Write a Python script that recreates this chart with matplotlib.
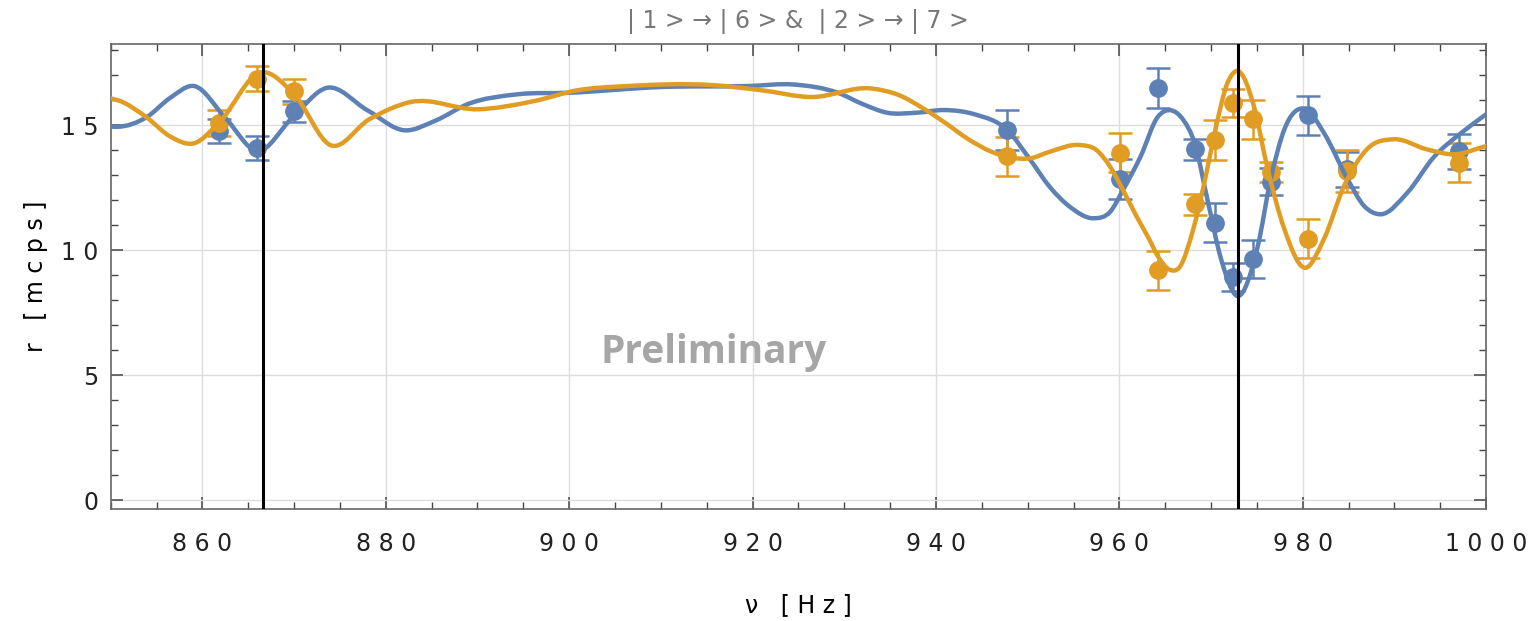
import numpy as np
import matplotlib
matplotlib.use("Agg")
import matplotlib.pyplot as plt
from matplotlib.path import Path
from matplotlib.patches import PathPatch
from matplotlib.ticker import MultipleLocator, FuncFormatter

# measured points (frequency in Hz, rate in mcps, error)
blue_x = [861.8, 866.0, 870.0, 947.8, 960.1, 964.2, 968.3, 970.4, 972.4, 974.55, 976.5, 980.6, 984.8, 997.0]
blue_y = [14.77, 14.1, 15.57, 14.8, 12.84, 16.48, 14.04, 11.1, 8.93, 9.64, 12.75, 15.4, 13.24, 13.97]
blue_err = [0.48, 0.47, 0.42, 0.8, 0.8, 0.8, 0.42, 0.78, 0.55, 0.76, 0.55, 0.78, 0.7, 0.7]

orange_x = [861.8, 866.0, 870.0, 947.8, 960.1, 964.2, 968.3, 970.4, 972.4, 974.55, 976.5, 980.6, 984.8, 997.0]
orange_y = [15.1, 16.87, 16.37, 13.76, 13.9, 9.2, 11.84, 14.4, 15.9, 15.24, 13.15, 10.47, 13.17, 13.5]
orange_err = [0.52, 0.5, 0.5, 0.78, 0.78, 0.78, 0.42, 0.8, 0.55, 0.77, 0.4, 0.78, 0.83, 0.78]

# fitted curves at peaks, troughs and crossings
blue_fit_x = [850.0, 850.8, 853.9, 856.5, 859.1, 862.5, 866.0, 869.8, 873.6, 878.0, 882.0, 885.5,
              888.9, 894.4, 900.0, 910.0, 919.5, 924.5, 929.3, 932.0, 934.7, 937.8, 940.9, 944.2,
              947.8, 950.3, 952.4, 954.6, 957.2, 959.0, 960.4, 962.3, 964.2, 965.6, 967.0, 968.2,
              969.6, 971.1, 972.9, 975.1, 976.5, 978.0, 980.2, 982.3, 984.9, 986.7, 988.5, 991.4,
              994.3, 997.3, 1000.0]
blue_fit_y = [14.95, 14.94, 15.32, 16.1, 16.57, 15.3, 13.97, 15.3, 16.5, 15.6, 14.8, 15.2,
              15.84, 16.24, 16.3, 16.53, 16.57, 16.63, 16.3, 15.85, 15.5, 15.5, 15.61, 15.44,
              14.8, 13.61, 12.54, 11.74, 11.28, 11.54, 12.41, 13.74, 15.34, 15.6, 15.2, 14.3,
              12.04, 9.64, 8.17, 10.17, 12.84, 14.84, 15.67, 14.7, 12.84, 11.77, 11.44, 12.3,
              13.73, 14.7, 15.44]

orange_fit_x = [850.0, 850.8, 853.9, 856.5, 859.1, 861.8, 866.4, 870.0, 874.0, 878.2, 882.7, 890.0,
                896.2, 900.9, 906.4, 915.5, 921.0, 926.4, 933.0, 936.0, 938.5, 941.0, 943.5, 946.0,
                948.3, 950.3, 952.4, 955.7, 957.5, 959.0, 960.4, 961.9, 963.2, 964.3, 965.4, 966.6,
                968.1, 969.5, 970.4, 971.8, 972.9, 974.7, 976.1, 978.0, 980.2, 982.3, 984.5, 987.0,
                990.0, 993.5, 996.5, 1000.0]
orange_fit_y = [16.07, 16.0, 15.32, 14.55, 14.28, 15.1, 17.12, 16.24, 14.2, 15.24, 15.93, 15.64,
                15.97, 16.4, 16.57, 16.61, 16.4, 16.13, 16.47, 16.2, 15.7, 15.1, 14.45, 13.95,
                13.7, 13.68, 13.94, 14.21, 14.01, 13.34, 12.41, 11.34, 10.48, 9.7, 9.24, 9.34,
                10.9, 13.1, 14.7, 16.7, 17.17, 15.73, 13.37, 10.84, 9.3, 10.44, 12.57, 14.04,
                14.44, 14.04, 13.84, 14.17]

transitions = [866.6, 972.9]

BLUE = "#5E81B5"
ORANGE = "#E19C24"
FONT = ["Liberation Sans Narrow", "DejaVu Sans"]


def smooth_curve(xs, ys):
    # cubic bezier pieces through the read-off points
    xs = np.asarray(xs, float)
    ys = np.asarray(ys, float)
    m = np.gradient(ys, xs)
    verts = [(xs[0], ys[0])]
    codes = [Path.MOVETO]
    for i in range(len(xs) - 1):
        h = xs[i + 1] - xs[i]
        verts += [(xs[i] + h / 3, ys[i] + m[i] * h / 3),
                  (xs[i + 1] - h / 3, ys[i + 1] - m[i + 1] * h / 3),
                  (xs[i + 1], ys[i + 1])]
        codes += [Path.CURVE4] * 3
    return Path(verts, codes)


fig = plt.figure(figsize=(15.31, 6.21), dpi=100)
ax = fig.add_axes([0.0723, 0.1799, 0.8984, 0.7488])

ax.errorbar(blue_x, blue_y, yerr=blue_err, fmt="o", color=BLUE, ms=12.5,
            elinewidth=1.8, capsize=8.5, capthick=1.8, zorder=3)
ax.errorbar(orange_x, orange_y, yerr=orange_err, fmt="o", color=ORANGE, ms=12.5,
            elinewidth=1.8, capsize=8.5, capthick=1.8, zorder=3)

ax.add_patch(PathPatch(smooth_curve(blue_fit_x, blue_fit_y), facecolor="none",
                       edgecolor=BLUE, lw=3.2, zorder=4, capstyle="round"))
ax.add_patch(PathPatch(smooth_curve(orange_fit_x, orange_fit_y), facecolor="none",
                       edgecolor=ORANGE, lw=3.2, zorder=4, capstyle="round"))

for xv in transitions:
    ax.axvline(xv, color="black", lw=2.2, zorder=5)

ax.set_xlim(850, 1000)
ax.set_ylim(-0.36, 18.24)

ax.xaxis.set_major_locator(MultipleLocator(20))
ax.xaxis.set_minor_locator(MultipleLocator(5))
ax.yaxis.set_major_locator(MultipleLocator(5))
ax.yaxis.set_minor_locator(MultipleLocator(1))
spaced = FuncFormatter(lambda v, p: " ".join(str(int(round(v)))))
ax.xaxis.set_major_formatter(spaced)
ax.yaxis.set_major_formatter(spaced)

ax.tick_params(which="both", direction="in", top=True, right=True, colors="#444444")
ax.tick_params(which="major", length=8.5, width=1.1)
ax.tick_params(which="minor", length=5, width=1.0)
ax.tick_params(axis="x", which="major", pad=16)
ax.tick_params(axis="y", which="major", pad=9)
for lab in ax.get_xticklabels() + ax.get_yticklabels():
    lab.set_family(FONT)
    lab.set_fontsize(17)
    lab.set_color("#222222")

for s in ax.spines.values():
    s.set_color("#666666")
    s.set_linewidth(1.2)

ax.grid(which="major", color="#DDDDDD", lw=1)
ax.set_axisbelow(True)

ax.set_xlabel("ν   [ H z ]", family=FONT, fontsize=17, va="center")
ax.set_ylabel("r   [ m c p s ]", family=FONT, fontsize=17, va="center")
ax.xaxis.set_label_coords(0.5, -0.206)
ax.yaxis.set_label_coords(-0.054, 0.5)

ax.text(0.5, 1.048, "| 1 > → | 6 > &  | 2 > → | 7 >", transform=ax.transAxes,
        ha="center", va="center", family=FONT, fontsize=17, color="#777777")

ax.text(0.4387, 0.338, "Preliminary", transform=ax.transAxes, ha="center", va="center",
        family=["Open Sans", "DejaVu Sans"], fontweight="bold", fontsize=28,
        color="#A6A6A6", zorder=6)

fig.savefig("out.png", dpi=100)
